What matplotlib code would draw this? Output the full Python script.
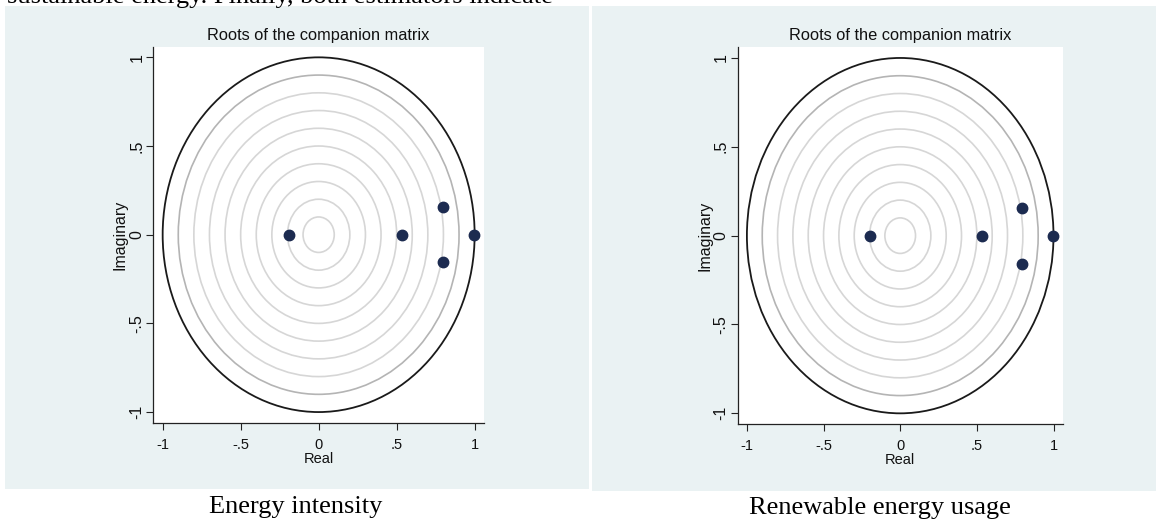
import matplotlib.pyplot as plt
from matplotlib.patches import Circle, Rectangle

# roots of the companion matrix
ei_real = [-0.193, 0.537, 0.998, 0.795, 0.795]
ei_imag = [0.0, 0.0, 0.0, 0.156, -0.156]
re_real = [-0.195, 0.535, 0.995, 0.792, 0.792]
re_imag = [0.0, 0.0, 0.0, 0.157, -0.157]

grid_radii = [0.1, 0.2, 0.3, 0.4, 0.5, 0.6, 0.7, 0.8, 0.9]
tick_vals = [-1, -0.5, 0, 0.5, 1]
tick_labels = ['-1', '-.5', '0', '.5', '1']
captions = ['Energy intensity', 'Renewable energy usage']
title = 'Roots of the companion matrix'

W, H = 1156, 521
bg = '#eaf2f3'
navy = '#1c2b50'

plt.rcParams['font.family'] = ['Liberation Sans', 'DejaVu Sans']

fig = plt.figure(figsize=(W / 100, H / 100), dpi=100)
fig.patch.set_facecolor('white')


def px_rect(x0, y0, x1, y1):
    return (x0 / W, 1 - y1 / H, (x1 - x0) / W, (y1 - y0) / H)


# grey Stata graph regions
for (x0, y0, x1, y1) in [(5, 6, 589, 489), (592, 6, 1156, 491)]:
    l, b, w, h = px_rect(x0, y0, x1, y1)
    fig.add_artist(Rectangle((l, b), w, h, transform=fig.transFigure,
                             facecolor=bg, edgecolor='none', zorder=-5))


def draw_panel(rect, xs, ys):
    ax = fig.add_axes(px_rect(*rect))
    ax.set_facecolor('white')
    for r in grid_radii:
        col = '#b4b4b4' if r == 0.9 else '#d6d6d6'
        ax.add_patch(Circle((0, 0), r, fill=False, edgecolor=col, lw=1.2))
    ax.add_patch(Circle((0, 0), 1.0, fill=False, edgecolor='#1a1a1a', lw=1.3))
    ax.plot(xs, ys, 'o', color=navy, markersize=7.5, zorder=5)

    ax.set_xlim(-1.06, 1.06)
    ax.set_ylim(-1.06, 1.06)
    ax.set_xticks(tick_vals)
    ax.set_xticklabels(tick_labels, fontsize=10.5)
    ax.set_yticks(tick_vals)
    ax.set_yticklabels(tick_labels, rotation=90, va='center', fontsize=11.5)
    for s in ['top', 'right']:
        ax.spines[s].set_visible(False)
    for s in ['left', 'bottom']:
        ax.spines[s].set_color('#222222')
        ax.spines[s].set_linewidth(0.9)
    ax.tick_params(axis='both', length=5, width=0.8, color='#222222',
                   labelcolor='#111111')
    ax.tick_params(axis='x', pad=6)
    ax.tick_params(axis='y', pad=1.5)
    ax.set_xlabel('Real', fontsize=10.5, labelpad=0, color='#111111')
    ax.set_ylabel('Imaginary', fontsize=11.5, labelpad=1, color='#111111')
    ax.set_title(title, fontsize=11.8, pad=5, color='#111111')
    return ax


draw_panel((153.3, 46.7, 484, 422.7), ei_real, ei_imag)
draw_panel((737.7, 47.3, 1062.7, 424), re_real, re_imag)

# captions under the panels and cut-off body text on top
fig.text(296 / W, 1 - 507 / H, captions[0], ha='center', va='center',
         fontsize=19, family=['Liberation Serif', 'DejaVu Serif'])
fig.text(880 / W, 1 - 508 / H, captions[1], ha='center', va='center',
         fontsize=19, family=['Liberation Serif', 'DejaVu Serif'])
fig.text(7 / W, 1 - 3 / H, 'sustainable energy. Finally, both estimators indicate',
         ha='left', va='baseline', fontsize=19,
         family=['Liberation Serif', 'DejaVu Serif'])

fig.savefig('out.png', dpi=100, facecolor='white')
